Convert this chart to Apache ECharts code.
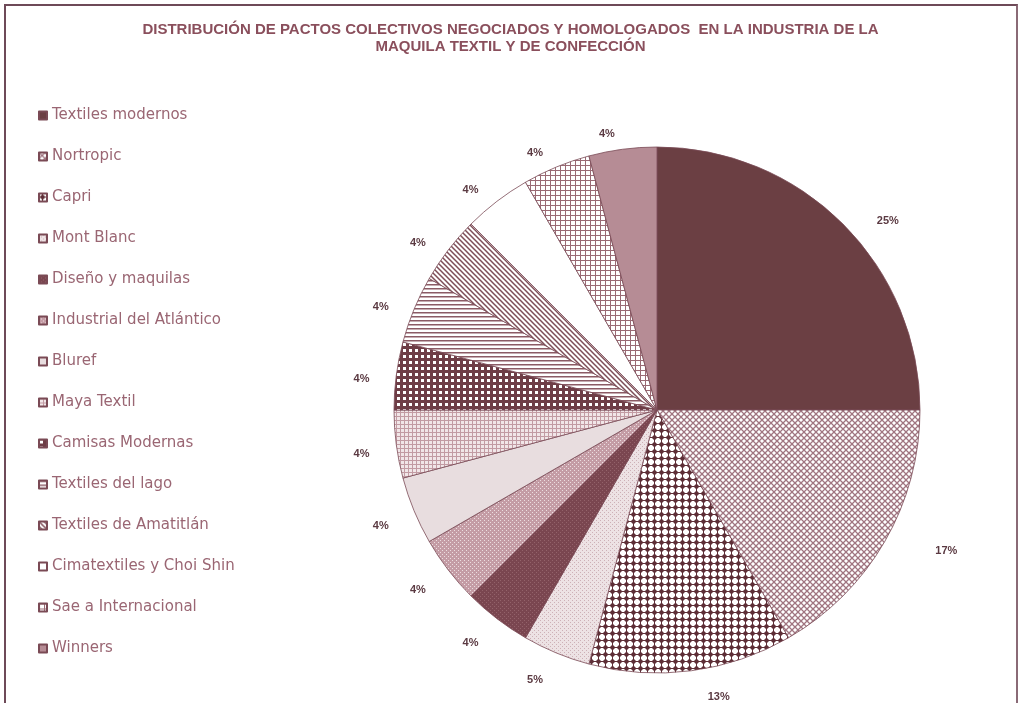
<!DOCTYPE html>
<html>
<head>
<meta charset="utf-8">
<script src="https://cdn.jsdelivr.net/npm/echarts@6/dist/echarts.min.js"></script>
<style>
html,body{margin:0;padding:0;background:#fff;}
#frame{position:absolute;left:4px;top:4px;width:1014px;height:700px;border-left:2px solid #6e4a58;border-top:2px solid #6e4a58;border-right:2px solid #8a6a76;box-sizing:border-box;}
#chart{position:absolute;left:0;top:0;width:1021px;height:703px;}
</style>
</head>
<body>
<div id="frame"></div>
<div id="chart"></div>
<script>
const titleLines = ['DISTRIBUCIÓN DE PACTOS COLECTIVOS NEGOCIADOS Y HOMOLOGADOS  EN LA INDUSTRIA DE LA', 'MAQUILA TEXTIL Y DE CONFECCIÓN'];
const categories = ['Textiles modernos','Nortropic','Capri','Mont Blanc','Diseño y maquilas','Industrial del Atlántico','Bluref','Maya Textil','Camisas Modernas','Textiles del lago','Textiles de Amatitlán','Cimatextiles y Choi Shin','Sae a Internacional','Winners'];
const values = [6,4,3,1,1,1,1,1,1,1,1,1,1,1];
const percentLabels = ['25%','17%','13%','5%','4%','4%','4%','4%','4%','4%','4%','4%','4%','4%'];

function tile(w,h,draw){const c=document.createElement('canvas');c.width=w;c.height=h;const g=c.getContext('2d');draw(g,w,h);return {image:c,repeat:'repeat'};}
const patterns = [
  '#6b3f43',
  tile(6,6,(g)=>{g.fillStyle='#fff';g.fillRect(0,0,6,6);g.strokeStyle='#a07580';g.lineWidth=1.3;g.beginPath();g.moveTo(0,0);g.lineTo(6,6);g.moveTo(6,0);g.lineTo(0,6);g.stroke();}),
  tile(7,7,(g)=>{g.fillStyle='#fff';g.fillRect(0,0,7,7);g.fillStyle='#5e2f37';g.beginPath();g.moveTo(3.5,0.5);g.lineTo(6.5,3.5);g.lineTo(3.5,6.5);g.lineTo(0.5,3.5);g.closePath();g.fill();g.fillRect(3,0,1,7);g.fillRect(0,3,7,1);}),
  tile(4,4,(g)=>{g.fillStyle='#ede2e4';g.fillRect(0,0,4,4);g.fillStyle='#cdb0b6';g.fillRect(0,0,1,1);g.fillRect(2,2,1,1);}),
  tile(4,4,(g)=>{g.fillStyle='#7a4650';g.fillRect(0,0,4,4);g.fillStyle='#93626a';g.fillRect(0,0,1,1);g.fillRect(2,2,1,1);}),
  tile(4,4,(g)=>{g.fillStyle='#c49ca5';g.fillRect(0,0,4,4);g.fillStyle='#ecdde0';g.fillRect(0,0,1,1);g.fillRect(2,2,1,1);}),
  '#e8dddf',
  tile(4,4,(g)=>{g.fillStyle='#f1e6e8';g.fillRect(0,0,4,4);g.fillStyle='#c29ba3';g.fillRect(0,0,4,1);g.fillRect(0,0,1,4);}),
  tile(6,6,(g)=>{g.fillStyle='#6e3d46';g.fillRect(0,0,6,6);g.fillStyle='#fff';g.fillRect(1,1,3,3);}),
  tile(4,4,(g)=>{g.fillStyle='#fff';g.fillRect(0,0,4,4);g.fillStyle='#8b5b65';g.fillRect(0,0,4,1.5);}),
  tile(5,5,(g)=>{g.fillStyle='#fff';g.fillRect(0,0,5,5);g.strokeStyle='#7e4d57';g.lineWidth=1.5;g.beginPath();g.moveTo(-1,-1);g.lineTo(6,6);g.moveTo(4,-1);g.lineTo(6,1);g.moveTo(-1,4);g.lineTo(1,6);g.stroke();}),
  '#ffffff',
  tile(5,5,(g)=>{g.fillStyle='#fff';g.fillRect(0,0,5,5);g.fillStyle='#9a6a74';g.fillRect(0,0,5,1);g.fillRect(0,0,1,5);}),
  '#b68c95'
];
const bigLabelLines = [{length:4,length2:26},{length:18,length2:30},{length:26,length2:8}];

const data = categories.map((n,i)=>{
  const d={name:n,value:values[i],itemStyle:{color:patterns[i]}};
  if(bigLabelLines[i]) d.labelLine=bigLabelLines[i];
  return d;
});
const chart = echarts.init(document.getElementById('chart'),null,{renderer:'canvas'});
chart.setOption({
  backgroundColor:'transparent',
  animation:false,
  title:{text:titleLines.join('\n'),left:'center',top:16,textStyle:{fontFamily:'Liberation Sans',fontSize:15,fontWeight:'bold',color:'#8a4f5c',lineHeight:17}},
  legend:{orient:'vertical',left:33,top:102,icon:'rect',itemWidth:8,itemHeight:8,itemGap:24,
    textStyle:{fontFamily:'DejaVu Sans',fontSize:15,color:'#9a6673',lineHeight:17},
    data:categories},
  series:[{type:'pie',center:[657,410],radius:263,startAngle:90,clockwise:true,
    avoidLabelOverlap:false,
    data:data,
    itemStyle:{borderColor:'#7a4a55',borderWidth:0.8},
    label:{show:true,position:'outside',lineHeight:13,
      formatter:(p)=>(bigLabelLines[p.dataIndex]?'':'\n')+percentLabels[p.dataIndex],
      fontFamily:'Liberation Sans',fontSize:11,fontWeight:'bold',color:'#5b3a42'},
    labelLine:{show:false,length:22,length2:0},
    emphasis:{disabled:true}
  }]
});
</script>
</body>
</html>
